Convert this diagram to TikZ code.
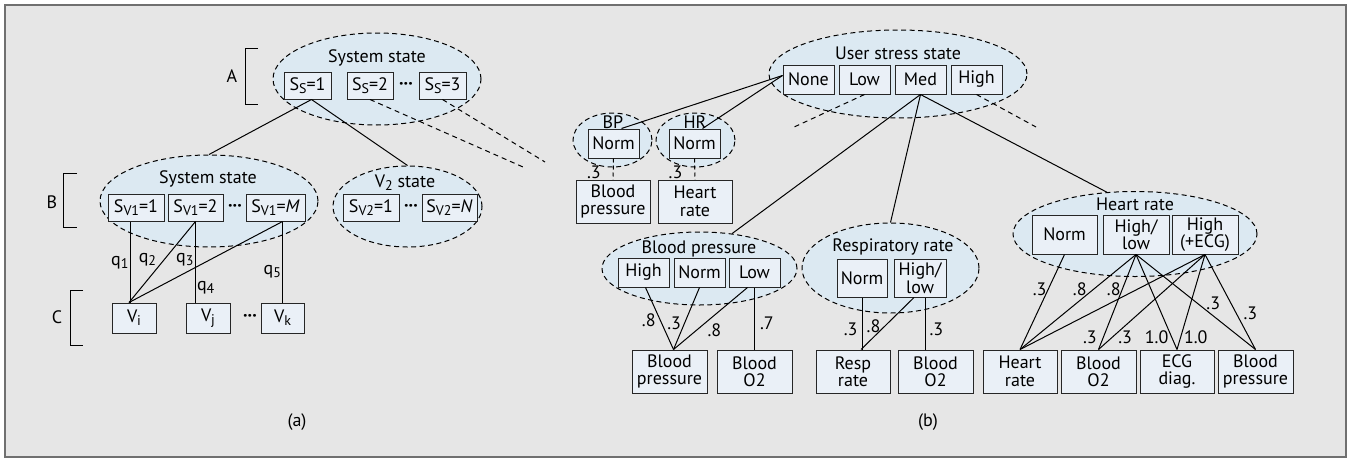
\documentclass[tikz,border=0pt]{standalone}
\usepackage{fontspec}
\setmainfont{PT Sans}
\usetikzlibrary{shapes.geometric,calc}
\definecolor{bggray}{HTML}{E6E6E6}
\definecolor{ellblue}{HTML}{DCE9F2}
\definecolor{boxblue}{HTML}{EAF0F7}
\definecolor{framegray}{HTML}{707070}
\newcommand{\lowsub}[1]{\raisebox{-0.35ex}{\fontsize{14}{14}\selectfont#1}}

\begin{document}
\begin{tikzpicture}[x=1pt,y=-1pt,
  font=\fontsize{18}{17.5}\selectfont,
  sbox/.style={draw=black!85,fill=boxblue,line width=1pt,inner sep=0pt,align=center,minimum height=27pt},
  lvl/.style={sbox,minimum width=51pt,minimum height=29pt,font=\fontsize{18}{16}\selectfont},
  obs/.style={sbox,minimum width=75pt,minimum height=43pt},
  sell/.style={ellipse,draw,line width=1pt,dash pattern=on 5pt off 3.5pt,fill=ellblue,inner sep=0pt},
  wt/.style={inner sep=1pt},
  dotsym/.style={inner sep=0pt,font=\fontsize{18}{18}\bfseries},
  link/.style={line width=1pt},
  cutline/.style={line width=1pt,dash pattern=on 5pt off 4pt}]
	%\draw[help lines] (0,0) grid[step=50] (1357,458);
	\useasboundingbox (0,0) rectangle (1357,458);
	\draw[framegray,line width=1.5pt,fill=bggray] (5,5) rectangle (1346,457);

	%(a) ELLIPSES
	\node[sell,minimum width=208pt,minimum height=92pt] (ellA) at (377,79) {};
	\node[sell,minimum width=218pt,minimum height=92pt] (ellB) at (209,201) {};
	\node[sell,minimum width=149pt,minimum height=81pt] (ellVtwo) at (407.5,206.5) {};
	\node (titA) at (377,58) {System state};
	\node (titB) at (208,179) {System state};
	\node (titV) at (405,183) {V\lowsub{2} state};

	%(a) STATES
	\node[sbox,minimum width=47pt] (ssone) at (307.5,85.5) {S\lowsub{S}=1};
	\node[sbox,minimum width=46pt] (sstwo) at (370,85.5) {S\lowsub{S}=2};
	\node[sbox,minimum width=47pt] (ssthree) at (442.5,85.5) {S\lowsub{S}=3};
	\node[dotsym] (dotsA) at (406,85.5) {···};
	\node[sbox,minimum width=56pt] (svone) at (136,207.5) {S\lowsub{V1}=1};
	\node[sbox,minimum width=55pt] (svtwo) at (195.5,207.5) {S\lowsub{V1}=2};
	\node[sbox,minimum width=59pt] (svM) at (275.5,207.5) {S\lowsub{V1}=\textit{M}};
	\node[dotsym] (dotsB) at (235,207.5) {···};
	\node[sbox,minimum width=56pt] (svVone) at (371,208) {S\lowsub{V2}=1};
	\node[sbox,minimum width=55pt] (svVN) at (449.5,208) {S\lowsub{V2}=\textit{N}};
	\node[dotsym] (dotsV) at (411,208) {···};
	\node[sbox,minimum width=44pt,minimum height=30pt] (vi) at (134,318) {V\lowsub{i}};
	\node[sbox,minimum width=44pt,minimum height=30pt] (vj) at (208,318) {V\lowsub{j}};
	\node[sbox,minimum width=43pt,minimum height=30pt] (vk) at (282.5,318) {V\lowsub{k}};
	\node[dotsym] (dotsC) at (250,318) {···};

	%BRACKETS
	\draw[link] (258,48) -- (245,48) -- (245,104) -- (258,104);
	\node (lblA) at (232,76) {A};
	\draw[link] (77,173) -- (63,173) -- (63,227) -- (77,227);
	\node (lblB) at (52,202) {B};
	\draw[link] (83,290) -- (70,290) -- (70,345) -- (83,345);
	\node (lblC) at (57,317) {C};

	%(a) LINKS
	\coordinate (cutA) at (523,167);
	\coordinate (cutB) at (545,162);
	\draw[link] ([xshift=4pt]ssone.south) -- (ellB.north);
	\draw[link] ([xshift=4pt]ssone.south) -- (ellVtwo.north);
	\draw[cutline] (sstwo.south) -- (cutA);
	\draw[cutline] (ssthree.south) -- (cutB);
	\draw[link] ([xshift=-6pt]svone.south) -- node[wt,pos=0.51,left]{q\lowsub{1}} ([xshift=-6pt]svone.south |- vi.north);
	\draw[link] (svtwo.south) -- node[wt,pos=0.57,anchor=south east]{q\lowsub{2}} ([xshift=-5pt]vi.north);
	\draw[link] ([xshift=7pt]svM.south) -- node[wt,pos=0.57,anchor=south east]{q\lowsub{3}} ([xshift=-5pt]vi.north);
	\draw[link] (svtwo.south) -- node[wt,pos=0.82,right]{q\lowsub{4}} (svtwo.south |- vj.north);
	\draw[link] ([xshift=7pt]svM.south) -- node[wt,pos=0.62,left]{q\lowsub{5}} ([xshift=7pt]svM.south |- vk.north);
	\node (capA) at (297,422) {(a)};

	%(b) ELLIPSES
	\node[sell,minimum width=258pt,minimum height=88pt] (ellU) at (898,74) {};
	\node[sell,minimum width=79pt,minimum height=54pt] (ellBPs) at (612.5,140) {};
	\node[sell,minimum width=79pt,minimum height=54pt] (ellHRs) at (695.5,140) {};
	\node[sell,minimum width=195pt,minimum height=73pt] (ellBP) at (699.5,268.5) {};
	\node[sell,minimum width=177pt,minimum height=90pt] (ellRR) at (890.5,268) {};
	\node[sell,minimum width=244pt,minimum height=85pt] (ellHR) at (1135,234) {};
	\node (titU) at (898,53) {User stress state};
	\node (titBPs) at (613,122) {BP};
	\node (titHRs) at (695,122) {HR};
	\node (titBP) at (699,249) {Blood pressure};
	\node (titRR) at (893,247) {Respiratory rate};
	\node (titHR) at (1135,204) {Heart rate};

	%(b) STATES
	\node[lvl] (stNone) at (808.5,79.5) {None};
	\node[lvl] (stLow) at (864.5,79.5) {Low};
	\node[lvl] (stMed) at (920.5,79.5) {Med};
	\node[lvl] (stHigh) at (976.5,79.5) {High};
	\node[lvl] (bpsNorm) at (613.5,143.5) {Norm};
	\node[lvl] (hrsNorm) at (694.5,143.5) {Norm};
	\node[obs,minimum width=74pt] (bpsObs) at (613,201.5) {Blood\\pressure};
	\node[obs,minimum width=74pt] (hrsObs) at (695,201.5) {Heart\\rate};
	\node[lvl] (bpHigh) at (643.5,272.5) {High};
	\node[lvl] (bpNorm) at (699.5,272.5) {Norm};
	\node[lvl] (bpLow) at (754.5,272.5) {Low};
	\node[obs] (bpObsB) at (669.5,371.5) {Blood\\pressure};
	\node[obs] (bpObsO) at (754.5,371.5) {Blood\\O2};
	\node[lvl,minimum width=50pt,minimum height=38pt] (rrNorm) at (862,278) {Norm};
	\node[lvl,minimum width=52pt,minimum height=38pt] (rrHL) at (920,278) {High/\\low};
	\node[obs,minimum width=74pt] (rrObsR) at (853,371.5) {Resp\\rate};
	\node[obs] (rrObsO) at (935.5,371.5) {Blood\\O2};
	\node[lvl,minimum width=65pt,minimum height=39pt] (hrNorm) at (1064.5,234.5) {Norm};
	\node[lvl,minimum width=66pt,minimum height=39pt] (hrHL) at (1136,234.5) {High/\\low};
	\node[lvl,minimum width=66pt,minimum height=39pt] (hrHE) at (1205,234.5) {High\\(+ECG)};
	\node[obs,minimum width=74pt] (hrObsH) at (1020,371.5) {Heart\\rate};
	\node[obs] (hrObsO) at (1098.5,371.5) {Blood\\O2};
	\node[obs,minimum width=74pt] (hrObsE) at (1177,371.5) {ECG\\diag.};
	\node[obs] (hrObsB) at (1255.5,371.5) {Blood\\pressure};

	%(b) LINKS
	\coordinate (cutC) at (792,128);
	\coordinate (cutD) at (1036,127);
	\draw[link] ([yshift=4pt]stNone.west) -- ([xshift=8pt]bpsNorm.north);
	\draw[link] ([yshift=4pt]stNone.west) -- ([xshift=8pt]hrsNorm.north);
	\draw[cutline] (stLow.south) -- (cutC);
	\draw[cutline] (stHigh.south) -- (cutD);
	\draw[link] (stMed.south) -- (ellBP.47);
	\draw[link] (stMed.south) -- (ellRR.north);
	\draw[link] (stMed.south) -- (ellHR.124);
	\draw[link,dash pattern=on 4pt off 3pt] (bpsNorm.south) -- node[wt,pos=0.64,left,xshift=-11pt]{.3} (bpsObs.north);
	\draw[link,dash pattern=on 4pt off 3pt] (hrsNorm.south) -- node[wt,pos=0.64,left,xshift=-11pt]{.3} (hrsObs.north);
	% blood pressure
	\draw[link] ([xshift=2pt]bpHigh.south) -- node[wt,pos=0.52,left,xshift=-3pt]{.8} ([xshift=4pt]bpObsB.north);
	\draw[link] (bpNorm.south) -- node[wt,pos=0.58,left,xshift=-2pt]{.3} ([xshift=4pt]bpObsB.north);
	\draw[link] ([xshift=-7pt]bpLow.south) -- node[wt,pos=0.56,anchor=north west]{.8} ([xshift=4pt]bpObsB.north);
	\draw[link] (bpLow.south) -- node[wt,pos=0.58,right,xshift=4pt]{.7} (bpLow.south |- bpObsO.north);
	% respiratory rate
	\draw[link] (rrNorm.south) -- node[wt,pos=0.62,left,xshift=-3pt]{.3} (rrNorm.south |- rrObsR.north);
	\draw[link] ([xshift=-6pt]rrHL.south) -- node[wt,pos=0.55,left,xshift=-3pt]{.8} ([xshift=8pt]rrObsR.north);
	\draw[link] ([xshift=5pt]rrHL.south) -- node[wt,pos=0.62,right,xshift=3pt]{.3} ([xshift=5pt]rrHL.south |- rrObsO.north);
	% heart rate
	\draw[link] (hrNorm.south) -- node[wt,pos=0.37,left]{.3} (hrObsH.north);
	\draw[link] (hrHL.south) -- node[wt,pos=0.37,left,xshift=-5pt]{.8} (hrObsH.north);
	\draw[link] (hrHL.south) -- node[wt,pos=0.37,left]{.8} node[wt,pos=0.875,left,xshift=-5pt]{.3} (hrObsO.north);
	\draw[link] (hrHL.south) -- node[wt,pos=0.875,left,xshift=-2pt]{1.0} (hrObsE.north);
	\draw[link] (hrHL.south) -- node[wt,pos=0.51,right,xshift=8pt]{.3} (hrObsB.north);
	\draw[link] (hrHE.south) -- (hrObsH.north);
	\draw[link] (hrHE.south) -- node[wt,pos=0.875,right,xshift=5pt]{.3} (hrObsO.north);
	\draw[link] (hrHE.south) -- node[wt,pos=0.875,right,xshift=2pt]{1.0} (hrObsE.north);
	\draw[link] (hrHE.south) -- node[wt,pos=0.615,right,xshift=6pt]{.3} (hrObsB.north);
	\node (capB) at (928,422) {(b)};
\end{tikzpicture}
\end{document}
